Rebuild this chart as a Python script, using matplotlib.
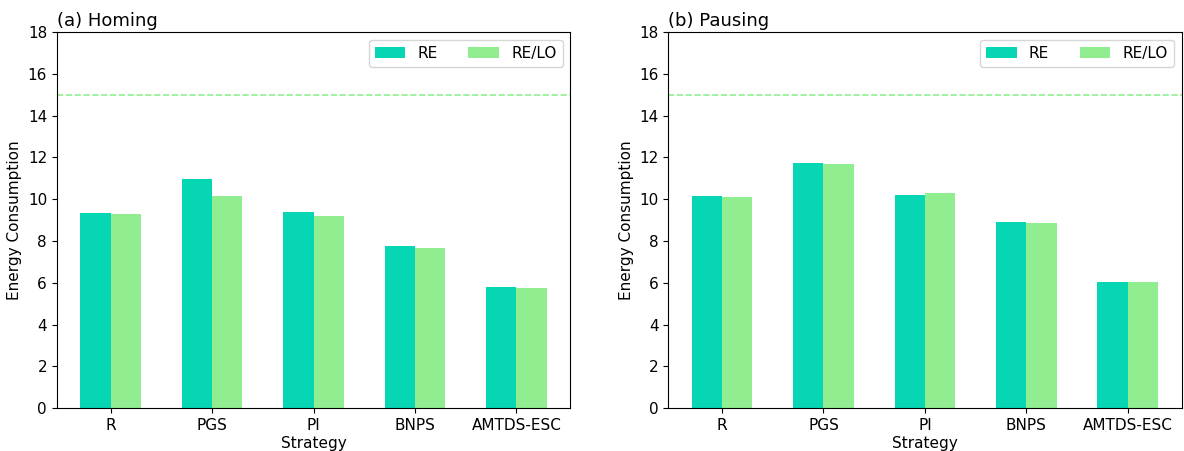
import matplotlib.pyplot as plt
import numpy as np

strategies = ["R", "PGS", "PI", "BNPS", "AMTDS-ESC"]
homing_re = [9.36, 10.96, 9.37, 7.78, 5.82]
homing_relo = [9.28, 10.16, 9.19, 7.66, 5.74]
pausing_re = [10.13, 11.71, 10.18, 8.91, 6.04]
pausing_relo = [10.10, 11.69, 10.29, 8.84, 6.04]
budget = 15

C_RE = "#06d6b3"
C_RELO = "#90ee90"

fig, axes = plt.subplots(1, 2, figsize=(11.84, 4.51), dpi=100)
panels = [
    ("(a) Homing", homing_re, homing_relo),
    ("(b) Pausing", pausing_re, pausing_relo),
]
x = np.arange(len(strategies))
w = 0.3
for ax, (title, re, relo) in zip(axes, panels):
    ax.bar(x - w / 2, re, w, color=C_RE, label="RE")
    ax.bar(x + w / 2, relo, w, color=C_RELO, label="RE/LO")
    ax.axhline(budget, color=C_RELO, linestyle="--", linewidth=1.2)
    ax.set_xticks(x)
    ax.set_xticklabels(strategies, fontsize=11)
    ax.set_ylim(0, 18)
    ax.set_yticks(range(0, 19, 2))
    ax.tick_params(axis="y", labelsize=11)
    ax.set_xlabel("Strategy", fontsize=11, labelpad=2)
    ax.set_ylabel("Energy Consumption", fontsize=11)
    ax.set_title(title, loc="left", fontsize=13, pad=4)
    ax.legend(loc="upper right", ncol=2, fontsize=11)

fig.subplots_adjust(left=0.048, right=0.998, bottom=0.095, top=0.929, wspace=0.191)
fig.savefig("out.png", dpi=100)
